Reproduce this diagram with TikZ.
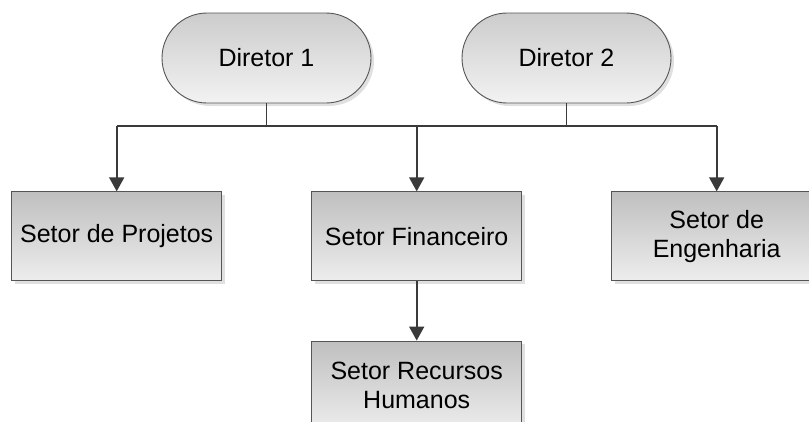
\documentclass[tikz,border=0pt]{standalone}
\usepackage{fontspec}
\setmainfont{Liberation Sans}
\usetikzlibrary{arrows.meta,shadows}
\definecolor{linegray}{HTML}{3A3A3A}
\definecolor{edgegray}{HTML}{555555}
\begin{document}
\begin{tikzpicture}[x=1pt,y=-1pt,
  every node/.style={font=\fontsize{25}{29}\selectfont, text=black, align=center, inner sep=0pt},
  director/.style={draw=edgegray, line width=0.9pt, rounded corners=45pt,
    minimum width=209pt, minimum height=90pt, top color=black!20, bottom color=black!5,
    drop shadow={shadow xshift=3pt, shadow yshift=-3pt, fill=black!12, opacity=1}},
  sector/.style={draw=edgegray, line width=0.9pt,
    minimum width=210pt, minimum height=89pt, top color=black!25, bottom color=black!7,
    drop shadow={shadow xshift=3pt, shadow yshift=-3pt, fill=black!12, opacity=1}},
  link/.style={draw=linegray, line width=1.7pt},
  arrowlink/.style={link, -{Triangle[width=15pt,length=14pt]}}]
  \useasboundingbox (0,0) rectangle (809,421);

  % directors
  \node[director] (d1) at (266.5,58) {Diretor 1};
  \node[director] (d2) at (566.5,58) {Diretor 2};

  % sectors
  \node[sector] (proj) at (116.7,236.3) {Setor de Projetos};
  \node[sector] (fin)  at (416.7,236.3) {Setor Financeiro};
  \node[sector] (eng)  at (716.7,236.3) {Setor de\\Engenharia};
  \node[sector] (rh)   at (416.7,385.5) {Setor Recursos\\Humanos};

  % bus line joining both directors
  \coordinate (busL) at (116.7,126);
  \coordinate (busR) at (716.7,126);
  \draw[link] (busL) -- (busR);
  \draw[link] (d1.south) -- (d1.south |- busL);
  \draw[link] (d2.south) -- (d2.south |- busL);

  % arrows down to the sectors
  \draw[arrowlink] (busL) -- (proj.north);
  \draw[arrowlink] (busL -| fin.north) -- (fin.north);
  \draw[arrowlink] (busR) -- (eng.north);
  \draw[arrowlink] (fin.south) -- (rh.north);
\end{tikzpicture}
\end{document}
